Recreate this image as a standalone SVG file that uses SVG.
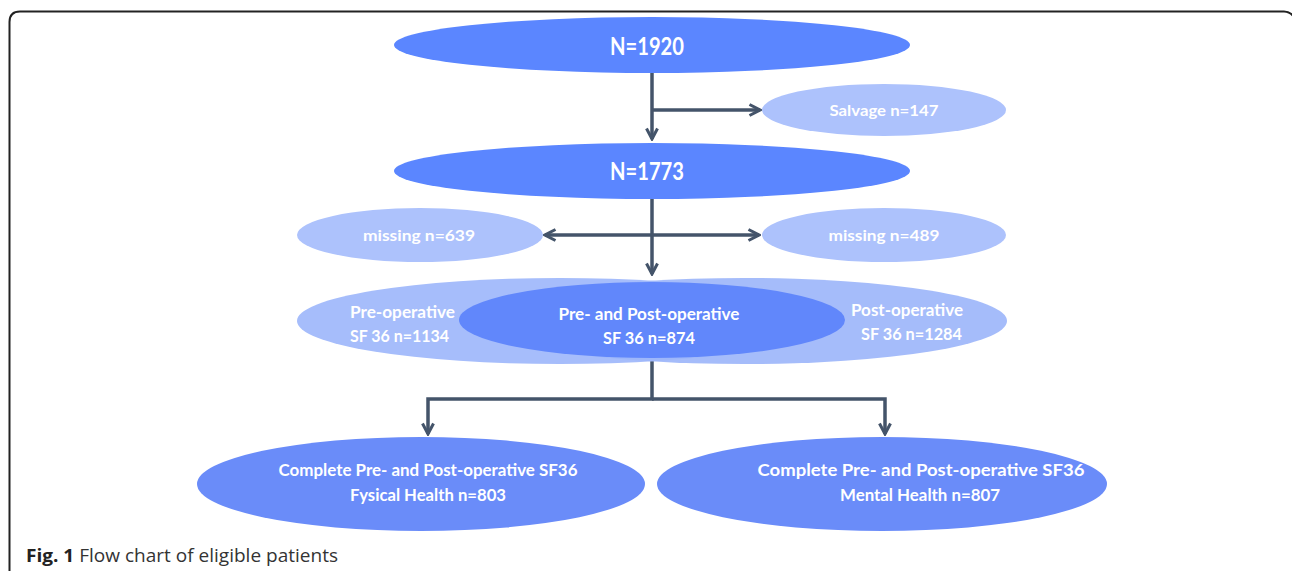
<svg xmlns="http://www.w3.org/2000/svg" width="1292" height="571" viewBox="0 0 1292 571">
<style>
.lbl{font-family:Lato,"Liberation Sans",sans-serif;font-weight:bold;fill:#fff;text-anchor:middle}
.big{font-size:25px}
.sm{font-size:16px}
.md{font-size:17px}
.conn{fill:none;stroke:#44546A;stroke-width:3.5}
.cap{font-family:"Open Sans","Liberation Sans",sans-serif;font-size:18.5px;fill:#333}
</style>
<defs>
<marker id="ah" viewBox="0 0 14 14" refX="12" refY="7" markerWidth="14" markerHeight="14" markerUnits="userSpaceOnUse" orient="auto-start-reverse">
<path d="M1.5,1.5 L12,7 L1.5,12.5" fill="none" stroke="#44546A" stroke-width="3"/>
</marker>
</defs>
<rect width="1292" height="571" fill="#fff"/>
<path d="M9.5,571 V22 Q9.5,11.5 20,11.5 H1284 Q1290,11.5 1294,17" fill="none" stroke="#222" stroke-width="2"/>

<g id="connectors">
<path class="conn" d="M652,73 V139" marker-end="url(#ah)"/>
<path class="conn" d="M652,110 H760" marker-end="url(#ah)"/>
<path class="conn" d="M652,199 V274" marker-end="url(#ah)"/>
<path class="conn" d="M545,235 H759" marker-start="url(#ah)" marker-end="url(#ah)"/>
<path class="conn" d="M652,358 V399 H428 V434" marker-end="url(#ah)"/>
<path class="conn" d="M652,399 H885 V434" marker-end="url(#ah)"/>
</g>

<g id="n1920">
<ellipse cx="652" cy="45" rx="258" ry="28" fill="#5B86FF"/>
<text class="lbl big" x="647" y="55" textLength="74" lengthAdjust="spacingAndGlyphs">N=1920</text>
</g>
<g id="salvage">
<ellipse cx="884" cy="110" rx="122" ry="26" fill="#ADC2FC"/>
<text class="lbl sm" x="884" y="116" textLength="109" lengthAdjust="spacingAndGlyphs">Salvage n=147</text>
</g>
<g id="n1773">
<ellipse cx="652" cy="171" rx="258" ry="28" fill="#5B86FF"/>
<text class="lbl big" x="647" y="180" textLength="74" lengthAdjust="spacingAndGlyphs">N=1773</text>
</g>
<g id="missing639">
<ellipse cx="420" cy="235" rx="123" ry="27" fill="#ADC2FC"/>
<text class="lbl sm" x="419" y="241" textLength="112" lengthAdjust="spacingAndGlyphs">missing n=639</text>
</g>
<g id="missing489">
<ellipse cx="884" cy="235" rx="122" ry="27" fill="#ADC2FC"/>
<text class="lbl sm" x="884" y="241" textLength="111" lengthAdjust="spacingAndGlyphs">missing n=489</text>
</g>
<g id="preop">
<ellipse cx="560" cy="321" rx="263" ry="43" fill="#A6BDFB"/>
<text class="lbl md" x="350" y="318" style="text-anchor:start" textLength="105" lengthAdjust="spacingAndGlyphs">Pre-operative</text>
<text class="lbl md" x="350" y="342" style="text-anchor:start" textLength="99" lengthAdjust="spacingAndGlyphs">SF 36 n=1134</text>
</g>
<g id="postop">
<ellipse cx="744" cy="321" rx="263" ry="43" fill="#9DB6FA" fill-opacity="0.92"/>
<text class="lbl md" x="963" y="316" style="text-anchor:end" textLength="112" lengthAdjust="spacingAndGlyphs">Post-operative</text>
<text class="lbl md" x="962" y="340" style="text-anchor:end" textLength="101" lengthAdjust="spacingAndGlyphs">SF 36 n=1284</text>
</g>
<g id="prepost">
<ellipse cx="652" cy="320" rx="193" ry="38" fill="#6187FB"/>
<text class="lbl md" x="649" y="320" textLength="181" lengthAdjust="spacingAndGlyphs">Pre- and Post-operative</text>
<text class="lbl md" x="649" y="344" textLength="92" lengthAdjust="spacingAndGlyphs">SF 36 n=874</text>
</g>
<g id="physical">
<ellipse cx="421" cy="484" rx="224" ry="47" fill="#6A8CF9"/>
<text class="lbl md" x="428" y="476" textLength="299" lengthAdjust="spacingAndGlyphs">Complete Pre- and Post-operative SF36</text>
<text class="lbl md" x="428" y="501" textLength="156" lengthAdjust="spacingAndGlyphs">Fysical Health n=803</text>
</g>
<g id="mental">
<ellipse cx="882" cy="484" rx="225" ry="47" fill="#6A8CF9"/>
<text class="lbl md" x="921" y="476" textLength="327" lengthAdjust="spacingAndGlyphs">Complete Pre- and Post-operative SF36</text>
<text class="lbl md" x="920" y="501" textLength="160" lengthAdjust="spacingAndGlyphs">Mental Health n=807</text>
</g>
<text class="cap" x="26" y="562" textLength="312" lengthAdjust="spacingAndGlyphs"><tspan font-weight="bold" fill="#222">Fig. 1</tspan> Flow chart of eligible patients</text>
</svg>
